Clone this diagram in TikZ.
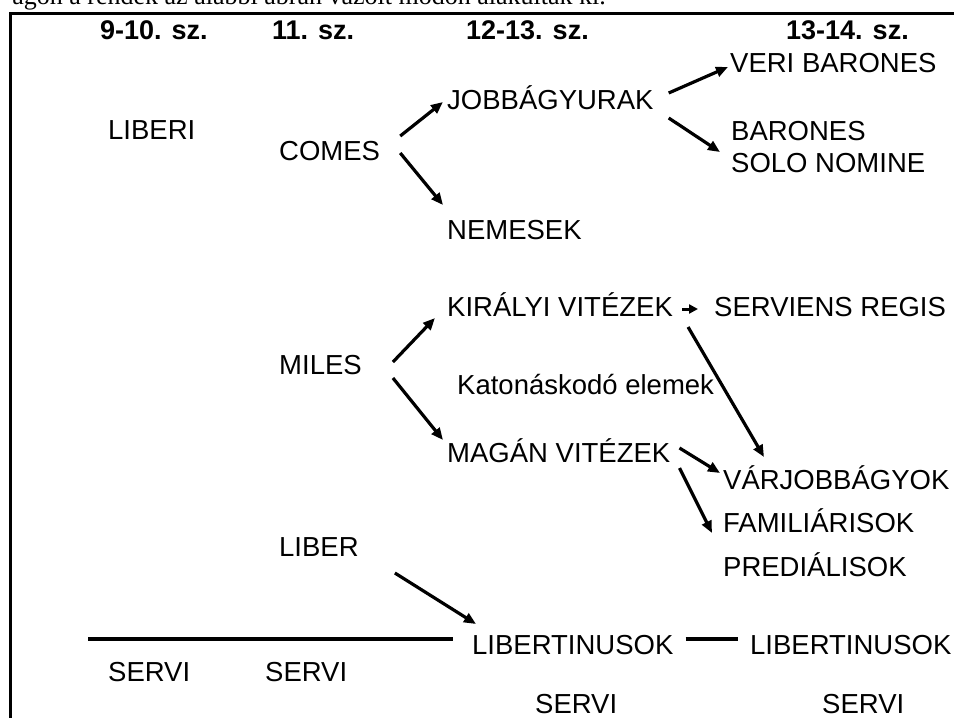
\documentclass[tikz,border=0pt]{standalone}
\usepackage{fontspec}
\setmainfont{Liberation Sans}
\newfontfamily\capserif{Liberation Serif}
\usetikzlibrary{positioning, calc, arrows.meta}

\begin{document}
\begin{tikzpicture}[x=1pt, y=-1pt,
		lbl/.style={font=\fontsize{27.5}{30}\selectfont, inner sep=0pt, anchor=west, text height=19pt, text depth=0pt},
		hdr/.style={lbl, font=\fontsize{27}{30}\selectfont\bfseries},
		arr/.style={line width=3.2pt, -{Triangle[length=12pt, width=10pt]}},
		bar/.style={line width=4.5pt}]
		\useasboundingbox (0,0) rectangle (954,718);
		\clip (0,0) rectangle (954,718);
		\node[anchor=base east, inner sep=0pt, font=\capserif\fontsize{26}{30}\selectfont] (cap) at (606,4) {ágon a rendek az alábbi ábrán vázolt módon alakultak ki.};
		\draw[line width=3pt] (10,730) -- (10,13.5) -- (960,13.5);
		% centuries
		\node[hdr] (h1) at (100,30) {9-10. sz.};
		\node[hdr] (h2) at (272,30) {11. sz.};
		\node[hdr] (h3) at (466,30) {12-13. sz.};
		\node[hdr] (h4) at (786,30) {13-14. sz.};
		% upper branch
		\node[lbl] (liberi) at (108,130) {LIBERI};
		\node[lbl] (comes) at (279,151) {COMES};
		\node[lbl] (jobb) at (447,100) {JOBBÁGYURAK};
		\node[lbl] (nemesek) at (447,230) {NEMESEK};
		\node[lbl] (veri) at (730,63) {VERI BARONES};
		\node[lbl] (barones) at (731,131) {BARONES};
		\node[lbl] (solo) at (731,163) {SOLO NOMINE};
		% milites
		\node[lbl] (miles) at (279,365) {MILES};
		\node[lbl] (kiralyi) at (447,307) {KIRÁLYI VITÉZEK};
		\node[lbl] (serviens) at (714,307) {SERVIENS REGIS};
		\node[lbl] (katona) at (457,385) {Katonáskodó elemek};
		\node[lbl] (magan) at (447,453) {MAGÁN VITÉZEK};
		\node[lbl] (varj) at (723,480) {VÁRJOBBÁGYOK};
		\node[lbl] (famil) at (723,523) {FAMILIÁRISOK};
		\node[lbl] (pred) at (723,567) {PREDIÁLISOK};
		% lower part
		\node[lbl] (liber) at (279,547) {LIBER};
		\node[lbl] (libt1) at (472,645) {LIBERTINUSOK};
		\node[lbl] (libt2) at (750,645) {LIBERTINUSOK};
		\node[lbl] (servi1) at (108,672) {SERVI};
		\node[lbl] (servi2) at (265,672) {SERVI};
		\node[lbl] (servi3) at (535,704) {SERVI};
		\node[lbl] (servi4) at (822,704) {SERVI};

		\draw[arr] ([shift={(20,-15)}]comes.east) -- ([shift={(-4,2)}]jobb.west);
		\draw[arr] ([shift={(20,2)}]comes.east) -- ([shift={(-4,-25)}]nemesek.west);
		\draw[arr] ([shift={(15,-7)}]jobb.east) -- ([shift={(-2,4)}]veri.west);
		\draw[arr] ([shift={(15,18)}]jobb.east) -- ([shift={(-11,21)}]barones.west);
		\draw[arr] ([shift={(31,-3)}]miles.east) -- ([shift={(-12,11)}]kiralyi.west);
		\draw[arr] ([shift={(31,13)}]miles.east) -- ([shift={(-4,-13)}]magan.west);
		\draw[line width=3pt, -{Triangle[length=9pt, width=9pt]}] ([shift={(9,2)}]kiralyi.east) -- ([shift={(-16,2)}]serviens.west);
		\draw[arr] ([shift={(15,20)}]kiralyi.east) -- ([shift={(41,-23)}]varj.west);
		\draw[arr] ([shift={(9,-5)}]magan.east) -- ([shift={(-3,-7)}]varj.west);
		\draw[arr] ([shift={(9,15)}]magan.east) -- ([shift={(-11,10)}]famil.west);
		\draw[arr] ([shift={(36,26)}]liber.east) -- ([shift={(4,-21)}]libt1.west);
		\draw[bar] (88,639) -- (453,639);
		\draw[bar] ([shift={(12,-6)}]libt1.east) -- ([shift={(-12,-6)}]libt2.west);
	\end{tikzpicture}
\end{document}
